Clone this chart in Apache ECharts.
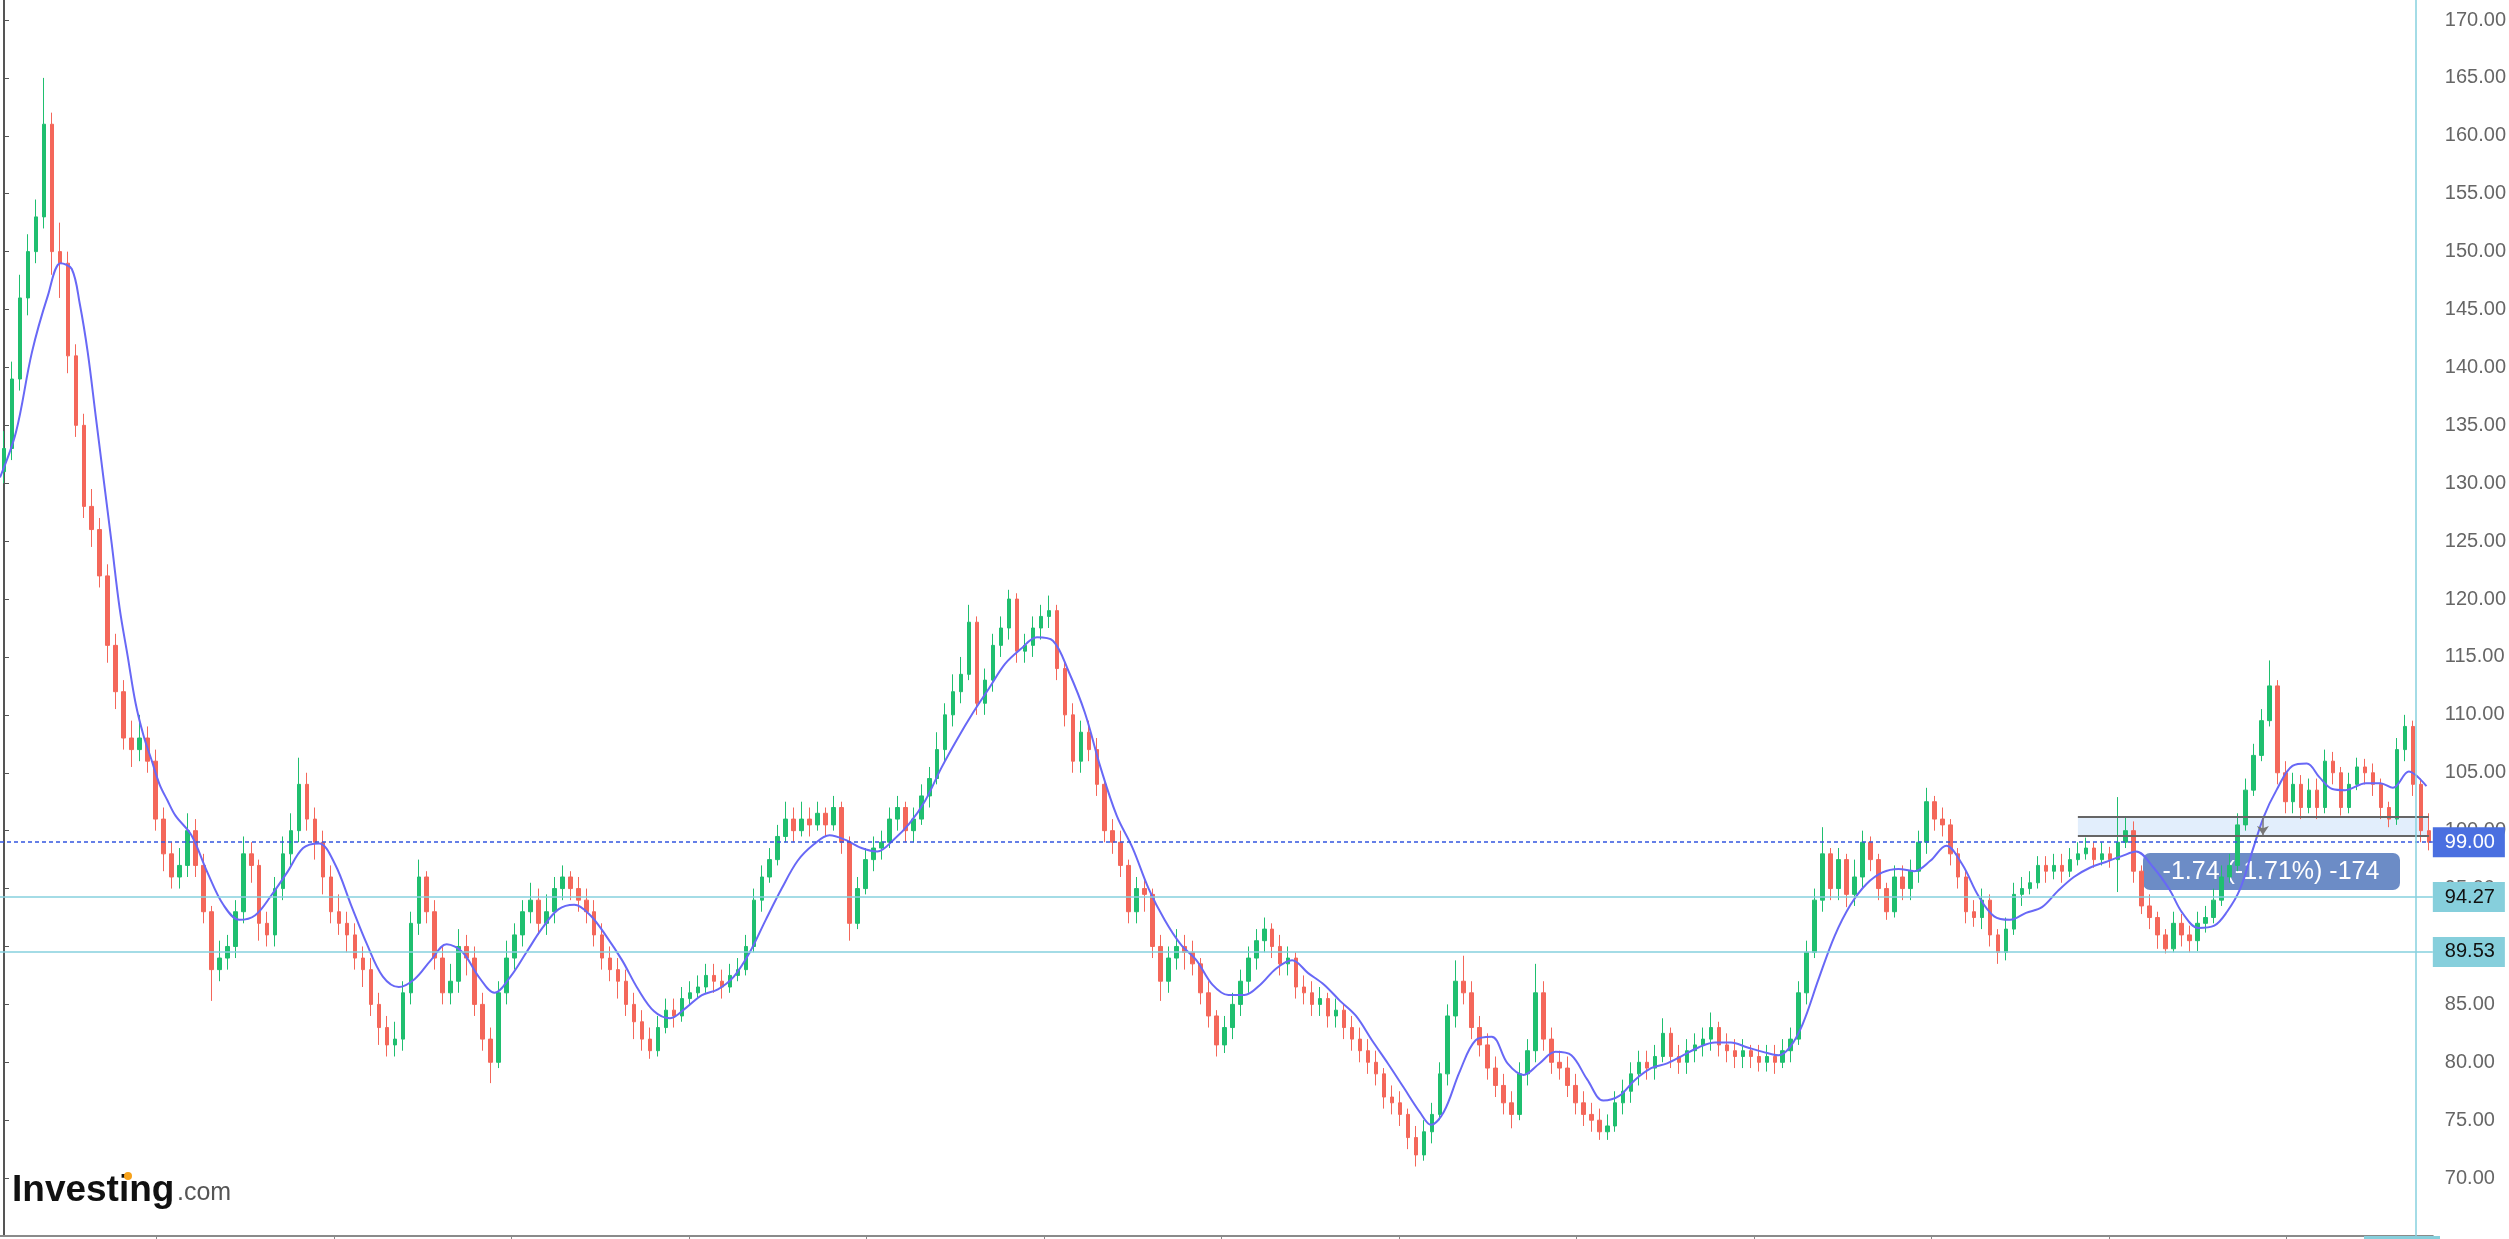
<!DOCTYPE html>
<html><head><meta charset="utf-8">
<script src="https://cdn.jsdelivr.net/npm/echarts@6/dist/echarts.min.js"></script>
<style>html,body{margin:0;padding:0;background:#fff;}#c{width:2509px;height:1239px;}</style>
</head><body><div id="c"></div>
<script>
// ---- data ----
const firstOpen = 131;
const closes = [
133,139,146,150,153,161,150,149,141,135,
128,126,122,116,112,108,107,108,106,101,
98,96,97,100,97,93,88,89,90,93,
98,97,92,91,95,98,100,104,101,99,
96,93,92,91,89,88,85,83,81.5,82,
86,92,96,93,89,86,87,90,89,85,
82,80,86,89,91,93,94,92,93,95,
96,95,94,93,91,89,88,87,85,83.5,
82,81,83,84.5,84,85.5,86,86.5,87.5,87,
86.5,87.5,88,90,94,96,97.5,99.5,101,100,
101,100.5,101.5,100.5,102,99,92,95,97.5,98.5,
99,101,102,100,101,103,104.5,107,110,112,
113.5,118,111,113,116,117.5,120,115.5,116,117.5,
118.5,119,114,110,106,108.5,107,104,100,99,
97,93,95,94.5,90,87,89,90,89.5,88.5,
86,84,81.5,83,85,87,89,90.5,91.5,90,
88.5,89,86.5,86,85,85.5,84,84.5,83,82,
81,80,79,77,76.5,75.5,73.5,72,74,75.5,
79,84,87,86,83,81.5,79.5,78,76.5,75.5,
79,81,86,82,80,79.5,78,76.5,75.5,75,
74,74.5,76.5,77.5,79,80,79.5,80.5,82.5,80.5,
80,81,81.5,82,83,81.5,81,80.5,81,80.5,
80,80.5,80,81,82,86,89.5,94,98,95,
97.5,94.5,96,99,97.5,95,93,96,95,96.5,
99,102.5,101,100.5,98,96,93,92.5,94,91,
89.5,91.5,94.5,95,95.5,97,96.5,97,96.5,97.5,
98,98.5,97.5,98,97.5,99,100,96.5,93.5,92.5,
91,89.8,92,91,90.5,92,92.5,94,96,97,
100.5,103.5,106.5,109.5,112.5,105,102.5,104,102,103.5,
102,106,105,102,104,105.5,105,104,102,101,
107,109,104,100,99
];
const highs = [
134.5,140.5,148,151.5,154.5,165,162,152.5,150,142,
136,129.5,127,123,117,113,109.5,110,109,107,
102,99,98.5,101.5,101,98,93.5,90.5,91,94,
99.5,99,97.5,93,96,99.5,101.5,106.3,105,102,
100,97,94.5,93,92,90,89,86,84,83.5,
87,93,97.5,96.5,94,90,88.5,91.5,91,90,
86,83,87,90.5,92,94,95.5,95,94.5,96,
97,96.5,96,95,94,92,90,89,88,86,
84.5,83,84,85.5,85.5,86.5,87,87.5,88.5,88.5,
88,88.5,89,91,95,97,98.5,100.5,102.5,102,
102.5,102,102.5,102,103,102.5,99.5,96,98.5,99.5,
100,102,103,102.5,102,104,105.5,108.5,111,113.5,
115,119.5,118.5,114,117,118.5,120.8,120.5,117,118.5,
119.5,120.3,119.5,114.5,111,109.5,109.5,108,104.5,101,
100,97.5,96,96,95,91,90,91.5,91,90.5,
89,87,84.5,84,86,88,90,91.5,92.5,92,
91,90,89.5,87.5,87,86.5,86,85.5,85,84,
83,82,81,79.5,78,77.5,76,74.5,75,76.5,
80,85,88.8,89.2,87,84,82.5,80.5,79,77.5,
80,82,88.5,87,83,81,80.5,79,77.5,76.5,
76,75.5,77.5,78.5,80,81,81,81.5,83.8,83,
81.5,82,82.5,83,84.3,83.5,82.5,82,82,81.5,
81.5,81.5,81.5,82,83,87,90.5,95,100.3,98.5,
98.5,98,97.5,100,99.5,98,95.5,97,97,97.5,
100,103.7,103,102,101,98.5,96.5,94,95,94.5,
91.5,92.5,95.5,96,96.5,97.8,97.8,98,98,98.5,
99,99.4,99,99,98.6,102.9,101.2,100.8,97,94.5,
93,91.5,93,92.8,91.8,93,93.5,95,97,98,
101.5,104.5,107.5,110.5,114.7,113,106,105,104.8,104.5,
104.5,107,106.8,105.5,105,106.3,106.2,105.8,104.5,102.5,
108,110,109.5,104.5,101.5
];
const lows = [
130,132,138,144.5,149,152,148,146,139.5,134,
127,124.5,121,114.5,110.5,107,105.5,106,105,100,
96.5,95,95,96,96,92,85.3,87,88,89,
92,95.5,90.5,90,90,94,97,99,100,97.5,
94.5,92,91,89.5,88,86.5,84,81.5,80.5,80.5,
81,85,91,92,88,85,85,86,87.5,84,
81,78.2,79.5,85,88,90,92,91,91,92,
94,94,93,92,90,88,87,85.5,84,82,
81,80.3,80.5,82.5,83,83.5,85,85.5,86,86,
85.5,86,87,87.5,89.5,93,95.5,97,99,99,
99.5,99.5,100,99.5,100,98,90.5,91.5,94.5,96.5,
97.5,98.5,100,99,99,100.5,102,104,106,109,
111,113,110,110,112,115,116.5,114.5,114.5,115,
116.5,117.5,113,109,105,105,106,103,99,98,
96,92,92,93,89,85.3,86,88,88,87.5,
85,83,80.5,80.8,82,84,86,88,89.5,89,
87.5,87.5,85.5,85,84,84,83,83,82,81,
80,79,78,76,75.5,74.5,72.5,71,71.5,73,
75,78,83,85,82,80.5,78.5,77,75.5,74.3,
75,78,80,81,79,78.5,77,75.5,74.5,74,
73.3,73.3,74,75.5,76.5,78,78.5,78.5,80,79.5,
79,79,80,80.5,81,80.5,80,79.5,79.5,79.5,
79.2,79.2,79,79.5,80,81.5,85,89,93,94,
94,93.4,93.5,95,96.5,94,92.3,92.5,94,94,
95.5,98,100,99.5,97,95,92,91.7,91.5,90,
88.5,88.8,91,93.5,94.5,95,95.5,95.8,95.5,96,
97,97.5,96.8,97,96.8,94.7,98.5,95.5,92.8,91.5,
89.8,89.4,89.5,90,89.5,89.6,91.2,92,93.5,95.5,
96.5,100,103,106,109,104,101.5,101.5,101,101.5,
101,101.5,104,101.3,101.5,103.5,104,103,101,100.3,
100.5,106,103,99,98.3
];
// moving average, read at candle positions (index units)
const maIdx = [-0.5,1.5,3.5,5.5,7.1,8.5,9.5,10.5,11.5,12.5,13.5,14.5,15.5,16.5,17.5,18.5,19.5,20.5,21.5,
23.5,25.5,27.5,29.5,31.5,33.5,35.5,37.5,39.5,41.5,43.5,45.5,47.5,49.5,51.5,53.5,55.5,57.5,59.5,61.5,63.5,65.5,67.5,69.5,71.5,73.5,75.5,77.5,79.5,81.5,83.5,85.5,87.5,89.5,91.5,93.5,95.5,97.5,99.5,101.5,103.5,105.5,107.5,109.5,111.5,113.5,115.5,117.5,119.5,121.5,123.5,125.5,127.5,129.5,131.5,133.5,135.5,137.5,139.5,141.5,143.5,145.5,147.5,149.5,151.5,153.5,155.5,157.5,159.5,161.5,163.5,165.5,167.5,169.5,171.5,173.5,175.5,177.5,
178.9,180.5,182.5,184.5,186.5,188.5,190.5,192.5,194.5,196.5,198.5,200.5,202.5,204.5,206.5,208.5,210.5,212.5,214.5,216.5,218.5,220.5,222.5,
223.9,225.5,227.5,229.5,231.5,233.5,235.5,237.5,239.5,241.5,243.5,245.5,247.5,249.5,251.5,253.5,255.5,257.5,259.5,261.5,263.5,265.5,
267.3,269.5,271.5,273.1,275.1,277.1,278.7,280.3,281.9,283.3,284.9,286.9,288.7,290.3,291.9,293.5,296.1,297.9,299.5,301.5,303.7];
const maVal = [130.5,134.4,141.3,146.2,149,148.5,145.5,141.3,135.8,130.3,124.8,119.2,115.1,111,108.2,106.1,104,102.6,101.3,
99.6,96.4,93.6,92.3,92.7,94.4,96.4,98.5,98.9,97.1,93.6,90.2,87.4,86.5,87.2,88.8,90.2,89.5,87.4,86,87.4,89.5,91.6,93.2,93.6,92.7,90.9,88.8,86.3,84.4,83.8,84.7,85.8,86.3,87.4,89.5,92.3,95,97.4,98.8,99.6,99.2,98.5,98.2,99.2,100.6,102.6,105.4,107.9,110.2,112.3,114.4,115.7,116.7,116.4,113.7,110.2,105.4,101.3,98.5,95,92.3,90.2,88.8,86.7,85.8,85.8,86.7,88.1,88.8,87.7,86.7,85.3,84,81.9,79.9,77.8,75.7,
74.6,75.7,79.2,81.9,82.2,79.9,78.9,79.9,80.9,80.6,78.5,76.7,77.1,78.5,79.5,79.9,80.6,81.3,81.7,81.7,81.3,80.9,80.6,
81.3,83.3,87.2,90.9,93.6,95.4,96.4,96.7,96.5,97.4,98.7,97.1,94.4,92.6,92.3,92.9,93.4,94.8,96,96.8,97.3,97.8,
98.2,96.8,94.9,92.9,91.6,91.8,93,94.9,98.3,101.2,103.5,105.6,105.8,104.6,103.6,103.5,104.1,104.1,103.7,105.1,103.84];
// horizontal price levels and their axis tags
const levelValues = [99.00, 94.27, 89.53];
const maLastValue = 103.84;
const zoneTop = 101.17, zoneBottom = 99.53, zoneStart = 260, zoneEnd = 304;
const arrowIdx = 283.2;
const crosshairIdx = 302.4;
const xTickPos = [19.125,41.375,63.625,85.875,108.125,130.375,152.625,174.875,197.125,219.375,241.625,263.875,286.125];
const changeText = '-1.74 (-1.71%) -174';

// ---- build ----
const N = closes.length;
const categories = closes.map((_, i) => String(i));
const candleData = closes.map((c, i) => [i === 0 ? firstOpen : closes[i - 1], c, lows[i], highs[i]]);
const maData = maIdx.map((x, i) => [x, maVal[i]]);
const FONT = 'Liberation Sans, Arial, sans-serif';

function tagLabel(bg, fg, txt) {
  return { show: true, position: 'end', distance: 0, formatter: txt, backgroundColor: bg, color: fg,
    fontSize: 20, lineHeight: 20, fontFamily: FONT, padding: [5, 10, 5, 12] };
}

const chart = echarts.init(document.getElementById('c'), null, { renderer: 'canvas' });
const option = {
  animation: false,
  backgroundColor: '#ffffff',
  grid: { left: 0, right: 69, top: 0, bottom: 3 },
  xAxis: [
    { type: 'category', data: categories, boundaryGap: true, show: false },
    { type: 'value', min: -0.5, max: N - 0.5, position: 'bottom',
      axisLine: { show: true, onZero: false, lineStyle: { color: '#8a8a8a', width: 2 } },
      axisTick: { show: true, customValues: xTickPos, length: 6, lineStyle: { color: '#8a8a8a' } },
      axisLabel: { show: false }, splitLine: { show: false } }
  ],
  yAxis: {
    type: 'value', position: 'right', min: 65, max: 171.727, interval: 5, scale: true,
    axisLine: { show: true, lineStyle: { color: '#555', width: 2 } },
    axisTick: { show: true, length: 5, lineStyle: { color: '#555' } },
    axisLabel: { margin: 12, color: '#666', fontSize: 20, fontFamily: FONT,
      showMinLabel: false, showMaxLabel: false, formatter: v => v.toFixed(2) },
    splitLine: { show: false }
  },
  series: [
    {
      type: 'candlestick', xAxisIndex: 0, data: candleData, barWidth: 4,
      itemStyle: { color: '#1fbf6f', color0: '#f4675a', borderColor: '#1fbf6f', borderColor0: '#f4675a', borderWidth: 1 },
      markArea: { silent: true, itemStyle: { color: '#e2eefc' },
        data: [[{ xAxis: zoneStart, yAxis: zoneTop }, { xAxis: zoneEnd, yAxis: zoneBottom }]] },
      markLine: {
        silent: true, symbol: 'none', animation: false,
        data: [
          { yAxis: levelValues[0], lineStyle: { color: '#3356e0', type: [4, 3], width: 1.5 },
            label: tagLabel('#4a6fe0', '#ffffff', levelValues[0].toFixed(2)) },
          { yAxis: levelValues[1], lineStyle: { color: '#86d0de', type: 'solid', width: 1.5 },
            label: tagLabel('#86cfdc', '#111111', levelValues[1].toFixed(2)) },
          { yAxis: levelValues[2], lineStyle: { color: '#86d0de', type: 'solid', width: 1.5 },
            label: tagLabel('#86cfdc', '#111111', levelValues[2].toFixed(2)) },
          { yAxis: maLastValue, lineStyle: { opacity: 0 },
            label: tagLabel('#0000e6', '#ffffff', maLastValue.toFixed(2)) },
          [{ coord: [zoneStart, zoneTop], lineStyle: { color: '#666', width: 2, type: 'solid' }, label: { show: false } },
           { coord: [zoneEnd, zoneTop] }],
          [{ coord: [zoneStart, zoneBottom], lineStyle: { color: '#666', width: 2, type: 'solid' }, label: { show: false } },
           { coord: [zoneEnd, zoneBottom] }]
        ]
      }
    },
    {
      type: 'line', xAxisIndex: 1, data: maData, showSymbol: false, smooth: 0.35,
      lineStyle: { color: '#6868f6', width: 2 }, z: 3,
      markLine: {
        silent: true, symbol: 'none', animation: false,
        data: [
          { xAxis: crosshairIdx, lineStyle: { color: '#86d0de', width: 1.5, type: 'solid' }, label: { show: false } },
          [{ coord: [arrowIdx, zoneTop], symbol: 'none', lineStyle: { color: '#777', width: 1.5, type: 'solid' }, label: { show: false } },
           { coord: [arrowIdx, zoneBottom + 0.1], symbol: 'arrow', symbolSize: [9, 9] }]
        ]
      }
    }
  ],
  graphic: [
    { type: 'group', left: 2143, top: 853, z: 100, children: [
      { type: 'rect', shape: { x: 0, y: 0, width: 257, height: 37, r: 7 }, style: { fill: 'rgba(88,124,190,0.88)' } },
      { type: 'text', x: 128, y: 19, style: { text: changeText, fill: '#ffffff', font: '25px ' + FONT,
        align: 'center', verticalAlign: 'middle', textAlign: 'center', textVerticalAlign: 'middle' } }
    ]},
    { type: 'text', left: 12, top: 1172, z: 100, style: { text: 'Investing', fill: '#111', font: 'bold 37px ' + FONT } },
    { type: 'text', left: 177, top: 1181, z: 100, style: { text: '.com', fill: '#555', font: '25px ' + FONT } },
    { type: 'circle', shape: { cx: 128, cy: 1176, r: 4 }, style: { fill: '#f7a21b' }, z: 101 },
    { type: 'rect', shape: { x: 2364, y: 1236, width: 76, height: 3 }, style: { fill: '#86cfdc' }, z: 100 }
  ]
};
chart.setOption(option);
</script>
</body></html>
